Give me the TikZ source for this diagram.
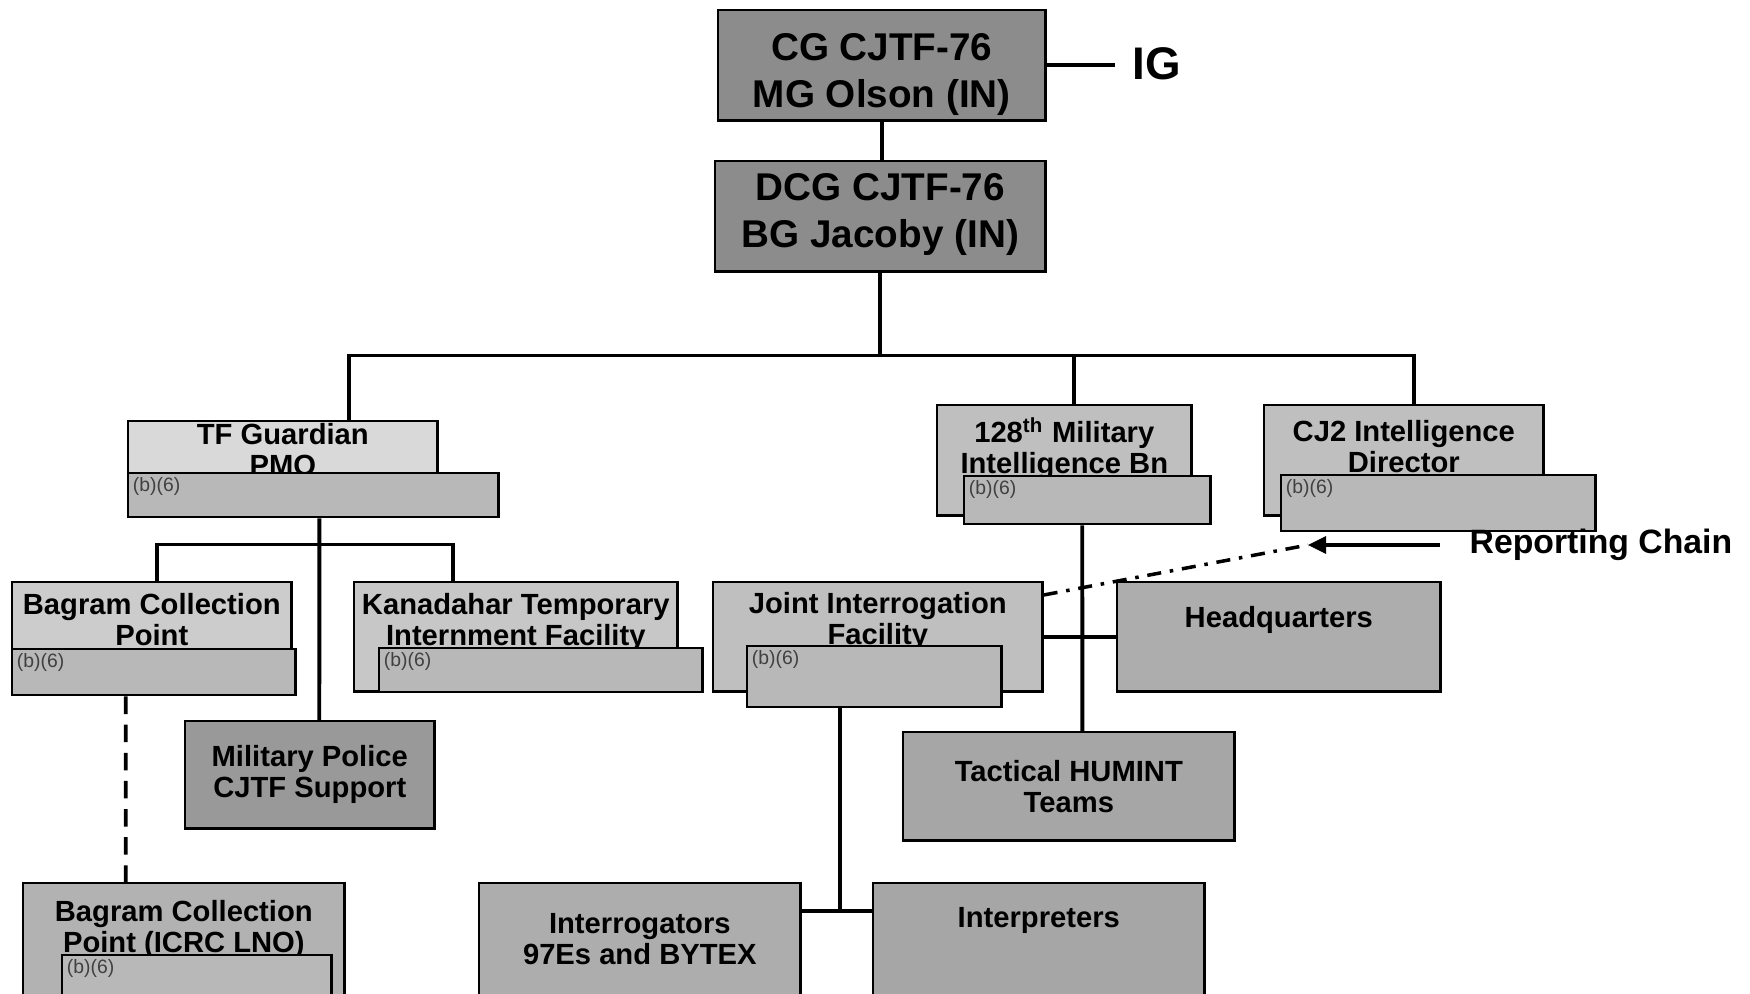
\documentclass[tikz,border=0pt]{standalone}
\usepackage{fontspec}
\setmainfont{Liberation Sans}
\usetikzlibrary{arrows.meta, positioning}

\begin{document}
\begin{tikzpicture}[
  x=0.01cm, y=-0.01cm,
  unit/.style={draw, line width=0.7pt, fill=black!25, anchor=north west, inner sep=0pt},
  boss/.style={unit, fill=black!45, minimum height=1.1cm},
  bosstitle/.style={align=center, inner sep=0pt, font=\bfseries\fontsize{11}{13.2}\selectfont},
  mid/.style={unit, align=center, font=\bfseries\fontsize{8.3}{8.8}\selectfont},
  title/.style={align=center, inner sep=0pt, font=\bfseries\fontsize{8.3}{8.8}\selectfont},
  redact/.style={draw, line width=0.7pt, fill=black!28, anchor=north west, inner sep=0pt,
                 label={[redtag]north west:(b)(6)}},
  redtag/.style={anchor=north west, inner sep=1.5pt, text=black!75, font=\fontsize{5.5}{6}\selectfont},
  note/.style={inner sep=0pt, font=\bfseries},
  link/.style={line width=1.1pt},
  ar/.style={-{Triangle[length=1.8mm, width=1.7mm]}, line width=0.9pt}
]
\useasboundingbox (0,0) rectangle (1750,994);
\clip (0,0) rectangle (1750,994);

% command group
\node[boss, minimum width=3.27cm] (cg) at (717,9) {};
\node[bosstitle, below=0.24cm of cg.north] (cg-t) {CG CJTF-76\\MG Olson (IN)};
\node[boss, minimum width=3.30cm] (dcg) at (714,160) {};
\node[bosstitle, below=0.13cm of dcg.north] (dcg-t) {DCG CJTF-76\\BG Jacoby (IN)};
\node[note, inner xsep=0.17cm, font=\bfseries\fontsize{13}{14}\selectfont] (ig) at (1157,64) {IG};

% TF Guardian branch
\node[unit, fill=black!15, minimum width=3.09cm, minimum height=0.8cm] (tf) at (127,420) {};
\node[title, below=0.03cm of tf.north] (tf-t) {TF Guardian\\PMO};
\node[redact, minimum width=3.70cm, minimum height=0.44cm] (tfred) at (127,472) {};

\node[unit, fill=black!20, minimum width=2.79cm, minimum height=0.9cm] (bcp) at (11,581) {};
\node[title, below=0.115cm of bcp.north] (bcp-t) {Bagram Collection\\Point};
\node[redact, minimum width=2.83cm, minimum height=0.46cm] (bcpred) at (11,648) {};

\node[unit, fill=black!22, minimum width=3.23cm, minimum height=1.09cm] (kan) at (353,581) {};
\node[title, below=0.115cm of kan.north] (kan-t) {Kanadahar Temporary\\Internment Facility};
\node[redact, minimum width=3.23cm, minimum height=0.44cm] (kanred) at (378,647) {};

\node[mid, fill=black!40, minimum width=2.49cm, minimum height=1.07cm] (mp) at (184,720) {Military Police\\CJTF Support};

\node[unit, fill=black!30, minimum width=3.21cm, minimum height=1.4cm] (icrc) at (22,882) {};
\node[title, below=0.175cm of icrc.north] (icrc-t) {Bagram Collection\\Point (ICRC LNO)};
\node[redact, minimum width=2.69cm, minimum height=0.6cm] (icrcred) at (61,954) {};

% intelligence branch
\node[unit, minimum width=2.54cm, minimum height=1.1cm] (mi) at (936,404) {};
\node[title, below=0.13cm of mi.north] (mi-t) {128\textsuperscript{th} Military\\Intelligence Bn};
\node[redact, minimum width=2.46cm, minimum height=0.48cm] (mired) at (963,475) {};

\node[unit, minimum width=2.79cm, minimum height=1.1cm] (cj) at (1263,404) {};
\node[title, below=0.16cm of cj.north] (cj-t) {CJ2 Intelligence\\Director};
\node[redact, minimum width=3.14cm, minimum height=0.56cm] (cjred) at (1280,474) {};

\node[unit, minimum width=3.29cm, minimum height=1.09cm] (jif) at (712,581) {};
\node[title, below=0.11cm of jif.north] (jif-t) {Joint Interrogation\\Facility};
\node[redact, minimum width=2.54cm, minimum height=0.61cm] (jifred) at (746,645) {};

\node[unit, fill=black!32, minimum width=3.23cm, minimum height=1.09cm] (hq) at (1116,581) {};
\node[title, below=0.245cm of hq.north] (hq-t) {Headquarters};

\node[mid, fill=black!35, minimum width=3.31cm, minimum height=1.08cm] (tac) at (902,731) {Tactical HUMINT\\Teams};

\node[unit, fill=black!32, minimum width=3.21cm, minimum height=1.4cm] (intg) at (478,882) {};
\node[title, below=0.305cm of intg.north] (intg-t) {Interrogators\\97Es and BYTEX};
\node[unit, fill=black!35, minimum width=3.31cm, minimum height=1.4cm] (ints) at (872,882) {};
\node[title, below=0.245cm of ints.north] (ints-t) {Interpreters};

% legend
\node[note, anchor=west, font=\bfseries\fontsize{9.6}{11}\selectfont] (rc) at (1469,545) {Reporting Chain};
\coordinate (rctip) at (1308,545);

% connectors
\draw[link] (cg.south) -- (cg.south |- dcg.north);
\draw[link] (cg.east) -- (cg.east -| ig.west);
\draw[link] (dcg.south) -- ++(0,83) coordinate (bus);
\draw[link] ([xshift=0.66cm]tf.north) |- (bus) -| ([xshift=0.1cm]cj.north);
\draw[link] ([xshift=0.1cm]mi.north) |- (bus);

\draw[link] ([xshift=0.06cm]tfred.south) -- ([xshift=0.095cm]mp.north);
\draw[link] ([xshift=0.05cm]bcp.north) |- ([yshift=-0.26cm]tfred.south) -| ([xshift=-0.63cm]kan.north);
\draw[link, dash pattern=on 5pt off 3pt] ([xshift=-0.28cm]bcpred.south) -- ([xshift=-0.58cm]icrc.north);

\draw[link] ([xshift=-0.05cm]mired.south) -- ([xshift=0.135cm]tac.north);
\draw[link] (jif.east) -- (hq.west);
\draw[link] ([xshift=-0.34cm]jifred.south) |- ([yshift=0.42cm]intg.east);
\draw[link] ([yshift=0.42cm]intg.east) -- ([yshift=0.42cm]ints.west);

\draw[line width=1pt, dash pattern=on 4pt off 2.5pt on 1pt off 2.5pt] ([yshift=-0.14cm]jif.north east) -- (rctip);
\draw[ar] ([xshift=-0.29cm]rc.west) -- (rctip);
\end{tikzpicture}
\end{document}
